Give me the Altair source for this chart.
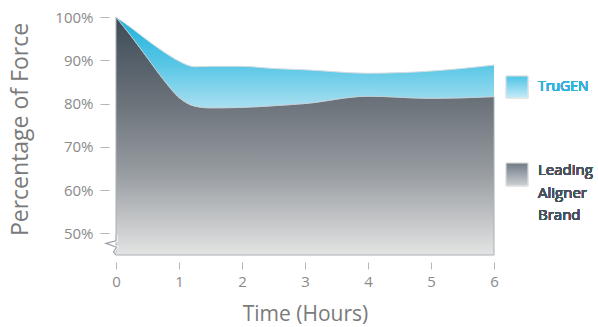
import altair as alt
import pandas as pd

# Hours after activation and remaining force (% of initial) for each aligner
hours = [0, 0.25, 0.5, 0.75, 1, 1.25, 1.5, 2, 2.5, 3, 4, 5, 6]
trugen = [100, 97.4, 94.6, 92.0, 89.8, 88.5, 88.6, 88.6, 88.1, 87.8, 87.0, 87.5, 88.9]
leading = [100, 95.4, 90.5, 85.6, 81.4, 79.4, 79.0, 79.1, 79.5, 80.0, 81.7, 81.2, 81.6]

x_ticks = [0, 1, 2, 3, 4, 5, 6]
y_ticks = [50, 60, 70, 80, 90, 100]
y_floor = 45

# zig-zag axis break drawn at the bottom-left corner
break_x = [0, 0, -0.16, 0.01, -0.04, 0]
break_y = [49.6, 48.3, 47.7, 46.8, 45.7, 45]

legend_names = ["TruGEN", "Leading\nAligner\nBrand"]

df = pd.DataFrame({"hours": hours, "trugen": trugen, "leading": leading})
brk = pd.DataFrame({"hours": break_x, "pct": break_y, "order": list(range(len(break_x)))})

FONT = "Open Sans"
W, H = 378, 238

x_scale = alt.Scale(domain=[0, 6], nice=False)
y_scale = alt.Scale(domain=[y_floor, 100], nice=False, zero=False)

x_axis = alt.Axis(
    values=x_ticks, format="d", title="Time (Hours)", grid=False, domain=False,
    offset=7, tickSize=7, tickColor="#b5b5b5", tickWidth=1,
    labelFont=FONT, labelFontSize=15, labelColor="#8a8a8a", labelPadding=5,
    labelAlign="center",
    titleFont=FONT, titleFontSize=21, titleFontWeight="normal", titleColor="#7a7a7a",
    titlePadding=14,
)
y_axis = alt.Axis(
    values=y_ticks, title="Percentage of Force", grid=False, domain=False,
    offset=7, tickSize=9, tickColor="#b5b5b5", tickWidth=1,
    labelFont=FONT, labelFontSize=15, labelColor="#8a8a8a", labelPadding=7,
    labelExpr="datum.value + '%'",
    titleFont=FONT, titleFontSize=23, titleFontWeight="normal", titleColor="#7a7a7a",
    titlePadding=22, titleY=112,
)

gray_grad = alt.Gradient(
    gradient="linear", x1=0, y1=0, x2=0, y2=1,
    stops=[
        alt.GradientStop(offset=0, color="#3d4c58"),
        alt.GradientStop(offset=0.35, color="#6a7179"),
        alt.GradientStop(offset=0.65, color="#969ba0"),
        alt.GradientStop(offset=1, color="#e4e4e4"),
    ],
)
blue_grad = alt.Gradient(
    gradient="linear", x1=0, y1=0, x2=0, y2=1,
    stops=[
        alt.GradientStop(offset=0, color="#1fb0dc"),
        alt.GradientStop(offset=0.55, color="#5cc8e6"),
        alt.GradientStop(offset=1, color="#aadff1"),
    ],
)
blue_swatch = alt.Gradient(
    gradient="linear", x1=0, y1=0, x2=0, y2=1,
    stops=[
        alt.GradientStop(offset=0, color="#4cc3e6"),
        alt.GradientStop(offset=1, color="#c6ebf7"),
    ],
)
gray_swatch = alt.Gradient(
    gradient="linear", x1=0, y1=0, x2=0, y2=1,
    stops=[
        alt.GradientStop(offset=0, color="#6f7a85"),
        alt.GradientStop(offset=1, color="#cdd1d5"),
    ],
)

base = alt.Chart(df)

leading_area = base.mark_area(
    interpolate="monotone", color=gray_grad, stroke="#a9b0b6", strokeWidth=1
).encode(
    x=alt.X("hours:Q", scale=x_scale, axis=x_axis),
    y=alt.Y("leading:Q", scale=y_scale, axis=y_axis),
    y2=alt.datum(y_floor),
)

trugen_band = base.mark_area(interpolate="monotone", color=blue_grad).encode(
    x=alt.X("hours:Q", scale=x_scale),
    y=alt.Y("trugen:Q", scale=y_scale),
    y2="leading:Q",
)

trugen_edge = base.mark_line(
    interpolate="monotone", color="#d5dde1", strokeWidth=1
).encode(x=alt.X("hours:Q", scale=x_scale), y=alt.Y("trugen:Q", scale=y_scale))

leading_edge = base.mark_line(
    interpolate="monotone", color="#c9d3d8", strokeWidth=1, opacity=0.8
).encode(x=alt.X("hours:Q", scale=x_scale), y=alt.Y("leading:Q", scale=y_scale))

# white backing so the break reads as a cut through the area edge
break_gap = alt.Chart(brk).mark_line(color="white", strokeWidth=3).encode(
    x=alt.X("hours:Q", scale=x_scale),
    y=alt.Y("pct:Q", scale=y_scale),
    order="order:Q",
)
axis_break = alt.Chart(brk).mark_line(color="#9aa1a7", strokeWidth=1.2).encode(
    x=alt.X("hours:Q", scale=x_scale),
    y=alt.Y("pct:Q", scale=y_scale),
    order="order:Q",
)

# legend: gradient swatches with labels to the right of the plot
legend_trugen_box = alt.Chart(df).mark_rect(
    color=blue_swatch, stroke="#e6e6e6", strokeWidth=1
).encode(
    x=alt.value(W + 12), x2=alt.value(W + 34), y=alt.value(59), y2=alt.value(81)
)
legend_leading_box = alt.Chart(df).mark_rect(
    color=gray_swatch, stroke="#e6e6e6", strokeWidth=1
).encode(
    x=alt.value(W + 12), x2=alt.value(W + 34), y=alt.value(146), y2=alt.value(169)
)
legend_trugen_text = alt.Chart(df).mark_text(
    text=legend_names[0], font=FONT, fontSize=14, fontWeight="normal",
    color="#2fb2dc", align="left", baseline="middle",
).encode(x=alt.value(W + 44), y=alt.value(70))
legend_leading_text = alt.Chart(df).mark_text(
    text=legend_names[1], font=FONT, fontSize=15, fontWeight="normal",
    color="#46525d", align="left", baseline="middle", lineBreak="\n", lineHeight=22.5,
).encode(x=alt.value(W + 44), y=alt.value(153))

chart = alt.layer(
    leading_area, trugen_band, trugen_edge, leading_edge, break_gap, axis_break,
    legend_trugen_box, legend_leading_box, legend_trugen_text, legend_leading_text,
).properties(
    width=W, height=H,
    autosize=alt.AutoSizeParams(type="none"),
    padding={"left": 116, "top": 17, "right": 104, "bottom": 72},
).configure_view(stroke=None)

chart.save("out.html", embed_options={"renderer": "svg", "actions": False})
